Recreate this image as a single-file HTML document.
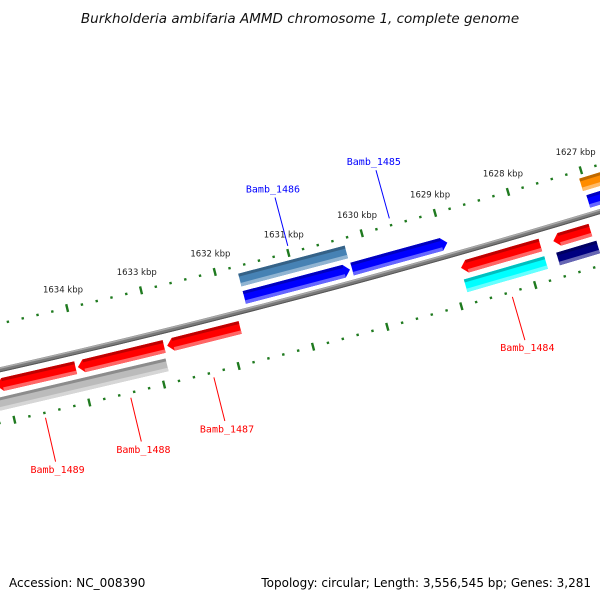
<!DOCTYPE html>
<html><head><meta charset="utf-8"><style>
html,body{margin:0;padding:0;background:#fff;}
svg{display:block;}
</style></head><body>
<svg id="map" width="600" height="600" viewBox="0 0 600 600" xmlns="http://www.w3.org/2000/svg">
<text x="300" y="23" text-anchor="middle" font-family="DejaVu Sans, Liberation Sans, sans-serif" font-style="italic" font-size="13.5" fill="#111">Burkholderia ambifaria AMMD chromosome 1, complete genome</text>
<g id="backbone-g"></g>
<g id="ticks-g"></g>
<g id="feat-g"></g>
<g id="lab-g"></g>
<text x="9" y="587" font-family="DejaVu Sans, Liberation Sans, sans-serif" font-size="12" fill="#000">Accession: NC_008390</text>
<text x="591" y="587" text-anchor="end" font-family="DejaVu Sans, Liberation Sans, sans-serif" font-size="12" fill="#000">Topology: circular; Length: 3,556,545 bp; Genes: 3,281</text>
</svg>
<script>
// ---- data ----
const featStart = [1630260,1626000,1630274,1628950,1626000,1627789,1627107,1631857,1632881,1634070,1632901,1627782,1627073];
const featEnd   = [1631707,1627052,1631707,1630246,1627025,1628868,1627612,1632840,1634040,1635130,1635153,1628874,1627619];
const featRow   = ['u2','u2','u1','u1','u1','l1','l1','l1','l1','l1','l2','l2','l2'];
const featDir   = ['','','R','R','R','L','L','L','L','L','','',''];
const featColor = ['#4682b4','#ff8c00','#0000ff','#0000ff','#0000ff','#ff0000','#ff0000','#ff0000','#ff0000','#ff0000','#bbbbbb','#00ffff','#000080'];
const labelText = ['Bamb_1486','Bamb_1485','Bamb_1484','Bamb_1487','Bamb_1488','Bamb_1489'];
const labelFeat = [0,3,5,7,8,9];
const tickLabelsKbp = [1627,1628,1629,1630,1631,1632,1633,1634];

// ---- geometry ----
const CX=-1874, CY=-7955, R=8533, A0=76.78, K=0.513;
const NS='http://www.w3.org/2000/svg';
function ang(bp){return (A0+(bp-1634000)/1000*K)*Math.PI/180;}
function P(bp,d){const a=ang(bp),r=R+d;return [CX+r*Math.cos(a),CY+r*Math.sin(a)];}
function pts(arr){return arr.map(p=>p[0].toFixed(2)+','+p[1].toFixed(2)).join(' ');}
const rows={u2:[-37.5,-24.5],u1:[-19.5,-6.5],l1:[8.5,21.5],l2:[27,40]};
function mk(tag,attrs,parent){const e=document.createElementNS(NS,tag);for(const k in attrs)e.setAttribute(k,attrs[k]);parent.appendChild(e);return e;}
function shade(hex,f){const n=parseInt(hex.slice(1),16);let r=n>>16,g=(n>>8)&255,b=n&255;
  if(f<0){r*=1+f;g*=1+f;b*=1+f;}else{r+=(255-r)*f;g+=(255-g)*f;b+=(255-b)*f;}
  return 'rgb('+[r,g,b].map(v=>Math.round(v)).join(',')+')';}

// backbone
const bb=document.getElementById('backbone-g');
function arc(d){const a=[];for(let bp=1624000;bp<=1644000;bp+=500)a.push(P(bp,d));return a;}
let e;
e=mk('polyline',{points:pts(arc(0)),fill:'none',stroke:'#7a7a7a','stroke-width':5},bb);


e=mk('polyline',{points:pts(arc(-1.5)),fill:'none',stroke:'#aaa','stroke-width':1.5},bb);


e=mk('polyline',{points:pts(arc(2)),fill:'none',stroke:'#555','stroke-width':1},bb);



// ticks
const tg=document.getElementById('ticks-g');
[-45,52].forEach((d,ri)=>{
  for(let bp=1624000;bp<=1644000;bp+=200){
    const major=bp%1000===0;const h=major?4:1.2;
    const a=P(bp,d-h),b=P(bp,d+h);
    const t=mk('line',{x1:a[0],y1:a[1],x2:b[0],y2:b[1],stroke:'#1f7a1f','stroke-width':2.4},tg);
    
    
  }
});
tickLabelsKbp.forEach(k=>{
  const p=P(k*1000,-63);
  const t=mk('text',{x:p[0],y:p[1],'text-anchor':'middle','dominant-baseline':'central','font-family':'DejaVu Sans, Liberation Sans, sans-serif','font-size':'8.5',fill:'#222'},tg);
  t.textContent=k+' kbp';
  
  
});

// features
const fg=document.getElementById('feat-g');
const TIP=80;
featStart.forEach((s,i)=>{
  const en=featEnd[i],[d1,d2]=rows[featRow[i]],dir=featDir[i],col=featColor[i];
  let s2=s,e2=en;if(dir==='R')s2=s+TIP;if(dir==='L')e2=en-TIP;
  const poly=[];
  poly.push(P(s2,d1));poly.push(P(e2,d1));
  if(dir==='L')poly.push(P(en,(d1+d2)/2));
  poly.push(P(e2,d2));poly.push(P(s2,d2));
  if(dir==='R')poly.push(P(s,(d1+d2)/2));
  const g=mk('g',{},fg);
  
  
  mk('polygon',{points:pts(poly),fill:col},g);
  mk('polygon',{points:pts([P(s2,d1),P(e2,d1),P(e2,d1+3),P(s2,d1+3)]),fill:shade(col,-0.25)},g);
  mk('polygon',{points:pts([P(s2,d2-3.5),P(e2,d2-3.5),P(e2,d2),P(s2,d2)]),fill:shade(col,0.4)},g);
});

// labels
const lg=document.getElementById('lab-g');
labelText.forEach((txt,i)=>{
  const f=labelFeat[i],mid=(featStart[f]+featEnd[f])/2;
  const up=featRow[f][0]==='u';
  const da=up?-52:57,db=up?-102:102,dt=up?-110:111;
  const col=up?'#0000ff':'#ff0000';
  const a=P(mid,da),b=P(mid,db),t=P(mid,dt);
  const l=mk('line',{x1:a[0],y1:a[1],x2:b[0],y2:b[1],stroke:col,'stroke-width':1},lg);
  
  
  const tx=mk('text',{x:t[0],y:t[1],'text-anchor':'middle','dominant-baseline':'central','font-family':'DejaVu Sans Mono, Liberation Mono, monospace','font-size':'10',fill:col},lg);
  tx.textContent=txt;
  
  
});
</script>
</body></html>
